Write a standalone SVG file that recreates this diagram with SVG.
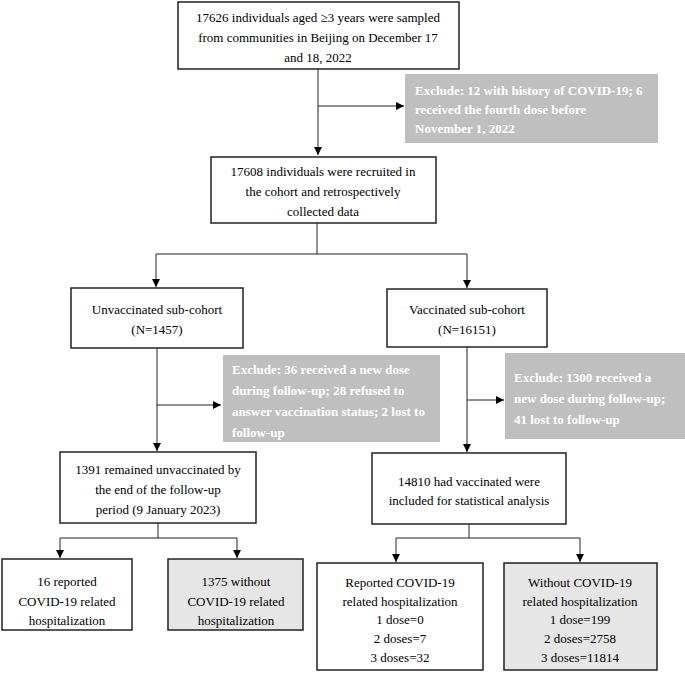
<svg xmlns="http://www.w3.org/2000/svg" width="685" height="681" viewBox="0 0 685 681">
<defs>
<marker id="ah" viewBox="0 0 10 10" refX="10" refY="5" markerWidth="8" markerHeight="8" markerUnits="userSpaceOnUse" orient="auto">
<path d="M0,0 L10,5 L0,10 z" fill="#000"/>
</marker>
<style>
.box{fill:#fff;stroke:#222;stroke-width:1.5}
.gbox{fill:#e6e6e6;stroke:#222;stroke-width:1.5}
.ex{fill:#bfbfbf;stroke:none}
.t{font-family:"Liberation Serif","Times New Roman",serif;font-size:13px;fill:#000;text-anchor:middle}
.w{font-family:"Liberation Serif","Times New Roman",serif;font-size:13px;font-weight:bold;fill:#fff}
.ln{fill:none;stroke:#222;stroke-width:1}
</style>
</defs>
<rect width="685" height="681" fill="#fff"/>
<g id="connectors">
<path class="ln" d="M318,69 V155" marker-end="url(#ah)"/>
<path class="ln" d="M318,106 H404" marker-end="url(#ah)"/>
<path class="ln" d="M317,223 V254 M156,254 H467"/>
<path class="ln" d="M156,254 V287" marker-end="url(#ah)"/>
<path class="ln" d="M467,254 V288" marker-end="url(#ah)"/>
<path class="ln" d="M157,348 V451" marker-end="url(#ah)"/>
<path class="ln" d="M157,405 H221" marker-end="url(#ah)"/>
<path class="ln" d="M467,347 V452" marker-end="url(#ah)"/>
<path class="ln" d="M467,400 H504" marker-end="url(#ah)"/>
<path class="ln" d="M158,523 V538 M60,538 H237"/>
<path class="ln" d="M60,538 V558" marker-end="url(#ah)"/>
<path class="ln" d="M237,538 V558" marker-end="url(#ah)"/>
<path class="ln" d="M469,524 V538 M396,538 H580"/>
<path class="ln" d="M396,538 V562" marker-end="url(#ah)"/>
<path class="ln" d="M580,538 V562" marker-end="url(#ah)"/>
</g>
<g id="n1">
<rect class="box" x="178" y="2" width="281" height="67"/>
<text class="t" x="318" y="22">17626 individuals aged ≥3 years were sampled</text>
<text class="t" x="318" y="42">from communities in Beijing on December 17</text>
<text class="t" x="318" y="62">and 18, 2022</text>
</g>
<g id="ex1">
<rect class="ex" x="405" y="74" width="253" height="69"/>
<text class="w" x="415" y="95">Exclude: 12 with history of COVID-19; 6</text>
<text class="w" x="415" y="114">received the fourth dose before</text>
<text class="w" x="415" y="133">November 1, 2022</text>
</g>
<g id="n2">
<rect class="box" x="211" y="157" width="225" height="66"/>
<text class="t" x="323" y="176">17608 individuals were recruited in</text>
<text class="t" x="323" y="196">the cohort and retrospectively</text>
<text class="t" x="323" y="216">collected data</text>
</g>
<g id="unvac">
<rect class="box" x="71" y="288" width="172" height="60"/>
<text class="t" x="157" y="314">Unvaccinated sub-cohort</text>
<text class="t" x="157" y="334">(N=1457)</text>
</g>
<g id="vac">
<rect class="box" x="387" y="289" width="160" height="58"/>
<text class="t" x="467" y="314">Vaccinated sub-cohort</text>
<text class="t" x="467" y="334">(N=16151)</text>
</g>
<g id="ex2">
<rect class="ex" x="223" y="355" width="217" height="87"/>
<text class="w" x="232" y="374">Exclude: 36 received a new dose</text>
<text class="w" x="232" y="395">during follow-up; 28 refused to</text>
<text class="w" x="232" y="416">answer vaccination status; 2 lost to</text>
<text class="w" x="232" y="437">follow-up</text>
</g>
<g id="ex3">
<rect class="ex" x="505" y="353" width="180" height="86"/>
<text class="w" x="514" y="382">Exclude: 1300 received a</text>
<text class="w" x="514" y="403">new dose during follow-up;</text>
<text class="w" x="514" y="424">41 lost to follow-up</text>
</g>
<g id="unvac2">
<rect class="box" x="60" y="452" width="196" height="71"/>
<text class="t" x="158" y="474">1391 remained unvaccinated by</text>
<text class="t" x="158" y="494">the end of the follow-up</text>
<text class="t" x="158" y="514">period (9 January 2023)</text>
</g>
<g id="vac2">
<rect class="box" x="372" y="453" width="194" height="71"/>
<text class="t" x="469" y="486">14810 had vaccinated were</text>
<text class="t" x="469" y="505">included for statistical analysis</text>
</g>
<g id="u_hosp">
<rect class="box" x="2" y="559" width="130" height="71"/>
<text class="t" x="67" y="586">16 reported</text>
<text class="t" x="67" y="606">COVID-19 related</text>
<text class="t" x="67" y="625">hospitalization</text>
</g>
<g id="u_nohosp">
<rect class="gbox" x="168" y="559" width="135" height="71"/>
<text class="t" x="236" y="586">1375 without</text>
<text class="t" x="236" y="606">COVID-19 related</text>
<text class="t" x="236" y="625">hospitalization</text>
</g>
<g id="v_hosp">
<rect class="box" x="317" y="563" width="166" height="107"/>
<text class="t" x="400" y="587">Reported COVID-19</text>
<text class="t" x="400" y="606">related hospitalization</text>
<text class="t" x="400" y="624">1 dose=0</text>
<text class="t" x="400" y="643">2 doses=7</text>
<text class="t" x="400" y="662">3 doses=32</text>
</g>
<g id="v_nohosp">
<rect class="gbox" x="504" y="563" width="153" height="107"/>
<text class="t" x="580" y="587">Without COVID-19</text>
<text class="t" x="580" y="606">related hospitalization</text>
<text class="t" x="580" y="624">1 dose=199</text>
<text class="t" x="580" y="643">2 doses=2758</text>
<text class="t" x="580" y="662">3 doses=11814</text>
</g>
</svg>
